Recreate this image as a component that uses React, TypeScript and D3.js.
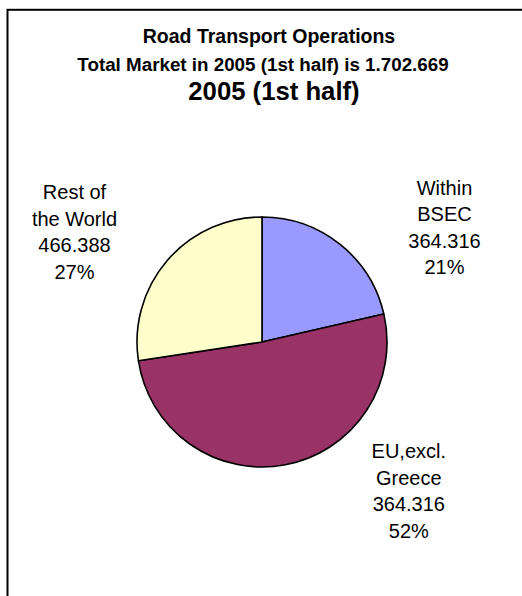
import React from "react";
import * as d3 from "d3";

const categories = ["Within BSEC", "EU,excl. Greece", "Rest of the World"];
const values = [364316, 871965, 466388];
const labelLines = [
  ["Within", "BSEC", "364.316", "21%"],
  ["EU,excl.", "Greece", "364.316", "52%"],
  ["Rest of", "the World", "466.388", "27%"],
];
const colors = ["#9999FF", "#993366", "#FFFFCC"];
const titleLines = [
  "Road Transport Operations",
  "Total Market in 2005 (1st half) is 1.702.669",
];
const subtitle = "2005 (1st half)";

// layout
const W = 522;
const H = 596;
const cx = 262;
const cy = 342;
const R = 125;
const labelAnchors = [
  { x: 444.5, y: 195 },
  { x: 408.8, y: 458.3 },
  { x: 74.5, y: 199.3 },
];
const lineH = 26.4;
const font = "'Liberation Sans', Arial, Helvetica, sans-serif";

export default function App() {
  const pie = d3
    .pie<number>()
    .sort(null)
    .startAngle(0)
    .endAngle(2 * Math.PI)
    .value((d) => d);
  const arcs = pie(values);
  const arc = d3.arc<d3.PieArcDatum<number>>().innerRadius(0).outerRadius(R);

  return (
    <svg
      width={W}
      height={H}
      style={{ position: "absolute", left: 0, top: 0, background: "#fff" }}
      fontFamily={font}
    >
      <rect x={0} y={0} width={W} height={H} fill="#fff" />
      <rect x={7.5} y={9.8} width={W + 20} height={H + 20} fill="#fff" stroke="#000" strokeWidth={2} />
      <text x={269} y={43.3} textAnchor="middle" fontSize={19.5} fontWeight="bold" fill="#000">
        {titleLines[0]}
      </text>
      <text x={263} y={70.6} textAnchor="middle" fontSize={18.8} fontWeight="bold" fill="#000">
        {titleLines[1]}
      </text>
      <text x={274} y={100} textAnchor="middle" fontSize={25.7} fontWeight="bold" fill="#000">
        {subtitle}
      </text>
      <g transform={`translate(${cx},${cy})`}>
        {arcs.map((a, i) => (
          <path
            key={categories[i]}
            d={arc(a) || ""}
            fill={colors[i]}
            stroke="#000"
            strokeWidth={1.6}
            strokeLinejoin="round"
          />
        ))}
      </g>
      {labelLines.map((lines, i) => (
        <text
          key={categories[i]}
          x={labelAnchors[i].x}
          y={labelAnchors[i].y}
          textAnchor="middle"
          fontSize={20}
          fill="#000"
        >
          {lines.map((l, j) => (
            <tspan key={j} x={labelAnchors[i].x} y={labelAnchors[i].y + j * lineH}>
              {l}
            </tspan>
          ))}
        </text>
      ))}
    </svg>
  );
}
